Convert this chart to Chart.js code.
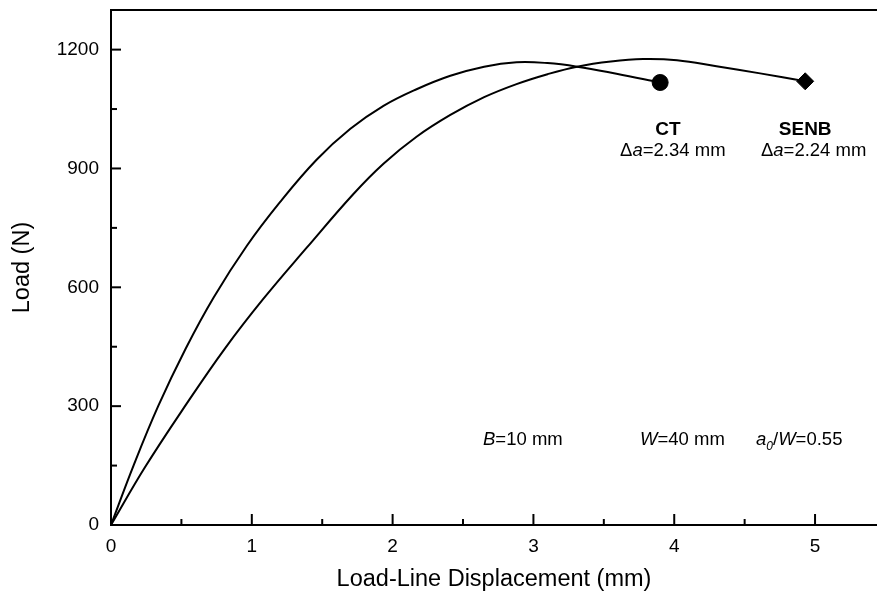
<!DOCTYPE html>
<html>
<head>
<meta charset="utf-8">
<script src="https://cdn.jsdelivr.net/npm/chart.js@4/dist/chart.umd.min.js"></script>
<style>
  html, body { margin: 0; padding: 0; background: #fff; }
  canvas { display: block; }
</style>
</head>
<body>
<canvas id="chart" width="877" height="598"></canvas>
<script>
// Load vs. load-line displacement for the two specimen geometries
const ctDisp   = [0, 0.16, 0.335, 0.53, 0.73, 0.965, 1.20, 1.46, 1.70, 1.935, 2.17, 2.41, 2.65, 2.88, 3.10, 3.31, 3.59, 3.90];
const ctLoad   = [0, 150, 300, 445, 575, 705, 815, 922, 1000, 1058, 1100, 1134, 1157, 1168, 1166, 1157, 1139, 1117];

const senbDisp = [0, 0.24, 0.535, 0.81, 1.08, 1.39, 1.72, 1.935, 2.17, 2.41, 2.65, 2.88, 3.10, 3.31, 3.55, 3.78, 4.02, 4.30, 4.61, 4.93];
const senbLoad = [0, 145, 305, 446, 570, 700, 835, 912, 980, 1035, 1080, 1113, 1138, 1157, 1170, 1176, 1173, 1158, 1140, 1120];

// Axis ticks
const xTickValues  = [0, 1, 2, 3, 4, 5];
const xMinorValues = [0.5, 1.5, 2.5, 3.5, 4.5];
const yTickValues  = [0, 300, 600, 900, 1200];
const yMinorValues = [150, 450, 750, 1050];

// Specimen names and final crack extension (mm)
const specimenNames = ['CT', 'SENB'];
const crackGrowth   = ['2.34', '2.24'];

const FONT = "'Liberation Sans', Arial, Helvetica, sans-serif";
Chart.defaults.font.family = FONT;
Chart.defaults.color = '#000';

const toPoints = (xs, ys) => xs.map((v, i) => ({ x: v, y: ys[i] }));
const lastOnly = (n, r) => ctx => (ctx.dataIndex === n - 1 ? r : 0);

// Frame (left, bottom, top) with inward major/minor ticks
const framePlugin = {
  id: 'frame',
  afterDraw(chart) {
    const { ctx, chartArea: a, scales: { x, y } } = chart;
    ctx.save();
    ctx.strokeStyle = '#000';
    ctx.lineWidth = 2;
    ctx.beginPath();
    ctx.moveTo(a.right + 2, a.top);
    ctx.lineTo(a.left, a.top);
    ctx.lineTo(a.left, a.bottom);
    ctx.lineTo(a.right + 2, a.bottom);
    ctx.stroke();

    const line = (x1, y1, x2, y2) => { ctx.beginPath(); ctx.moveTo(x1, y1); ctx.lineTo(x2, y2); ctx.stroke(); };
    xTickValues.forEach(v => { const p = x.getPixelForValue(v); line(p, a.bottom, p, a.bottom - 11); });
    xMinorValues.forEach(v => { const p = x.getPixelForValue(v); line(p, a.bottom, p, a.bottom - 6); });
    yTickValues.forEach(v => { const p = y.getPixelForValue(v); line(a.left, p, a.left + 10, p); });
    yMinorValues.forEach(v => { const p = y.getPixelForValue(v); line(a.left, p, a.left + 6, p); });
    ctx.restore();
  }
};

// Text made of runs with optional italic / bold / subscript
function drawRuns(ctx, runs, cx, baseY, size, align) {
  const fontFor = r => `${r.it ? 'italic ' : ''}${r.b ? 'bold ' : ''}${r.sub ? Math.round(size * 0.65) : size}px ${FONT}`;
  let total = 0;
  runs.forEach(r => { ctx.font = fontFor(r); total += ctx.measureText(r.t).width; });
  let xPos = align === 'center' ? cx - total / 2 : cx;
  ctx.textAlign = 'left';
  ctx.textBaseline = 'alphabetic';
  runs.forEach(r => {
    ctx.font = fontFor(r);
    ctx.fillText(r.t, xPos, r.sub ? baseY + size * 0.25 : baseY);
    xPos += ctx.measureText(r.t).width;
  });
}

const notesPlugin = {
  id: 'notes',
  afterDatasetsDraw(chart) {
    const { ctx, scales: { x, y } } = chart;
    ctx.save();
    ctx.fillStyle = '#000';
    // captions under the end markers
    const captions = [
      { cx: 3.955, name: specimenNames[0], dx: 3.99, da: crackGrowth[0] },
      { cx: 4.93,  name: specimenNames[1], dx: 4.99, da: crackGrowth[1] }
    ];
    captions.forEach(c => {
      drawRuns(ctx, [{ t: c.name, b: true }], x.getPixelForValue(c.cx), y.getPixelForValue(985), 19, 'center');
      drawRuns(ctx, [{ t: '\u0394' }, { t: 'a', it: true }, { t: '=' + c.da + ' mm' }],
               x.getPixelForValue(c.dx), y.getPixelForValue(931), 18.5, 'center');
    });
    // specimen dimensions
    const by = y.getPixelForValue(202);
    drawRuns(ctx, [{ t: 'B', it: true }, { t: '=10 mm' }], x.getPixelForValue(2.642), by, 18.5, 'left');
    drawRuns(ctx, [{ t: 'W', it: true }, { t: '=40 mm' }], x.getPixelForValue(3.757), by, 18.5, 'left');
    drawRuns(ctx, [{ t: 'a', it: true }, { t: '0', it: true, sub: true }, { t: '/' }, { t: 'W', it: true }, { t: '=0.55' }],
             x.getPixelForValue(4.581), by, 18.5, 'left');
    ctx.restore();
  }
};

const plainLabel = v => String(v);

new Chart(document.getElementById('chart'), {
  type: 'line',
  data: {
    datasets: [
      {
        label: specimenNames[0],
        data: toPoints(ctDisp, ctLoad),
        borderColor: '#000', backgroundColor: '#000', borderWidth: 2,
        pointStyle: 'circle',
        pointRadius: lastOnly(ctDisp.length, 8),
        pointHoverRadius: 0, pointBorderWidth: 1,
        tension: 0.4, fill: false
      },
      {
        label: specimenNames[1],
        data: toPoints(senbDisp, senbLoad),
        borderColor: '#000', backgroundColor: '#000', borderWidth: 2,
        pointStyle: 'rectRot',
        pointRadius: lastOnly(senbDisp.length, 8.5),
        pointHoverRadius: 0, pointBorderWidth: 1,
        tension: 0.4, fill: false
      }
    ]
  },
  options: {
    responsive: false,
    devicePixelRatio: 1,
    animation: false,
    events: [],
    layout: { autoPadding: false, padding: { top: 10, right: 0, bottom: 0, left: 0 } },
    plugins: { legend: { display: false }, tooltip: { enabled: false } },
    scales: {
      x: {
        type: 'linear', min: 0, max: 5.44,
        grid: { display: false, drawTicks: false },
        border: { display: false },
        afterBuildTicks: s => { s.ticks = xTickValues.map(v => ({ value: v })); },
        afterFit: s => { s.height = 73; s.paddingLeft = 0; s.paddingRight = 0; },
        ticks: { font: { size: 19 }, color: '#000', padding: 10, maxRotation: 0, callback: plainLabel },
        title: { display: true, text: 'Load-Line Displacement (mm)', font: { size: 23.5 }, color: '#000', padding: { top: 0, bottom: 4 } }
      },
      y: {
        type: 'linear', min: 0, max: 1300,
        grid: { display: false, drawTicks: false },
        border: { display: false },
        afterBuildTicks: s => { s.ticks = yTickValues.map(v => ({ value: v })); },
        afterFit: s => { s.width = 111; s.paddingTop = 0; s.paddingBottom = 0; },
        ticks: { font: { size: 19 }, color: '#000', padding: 12, callback: plainLabel },
        title: { display: true, text: 'Load (N)', font: { size: 23.5 }, color: '#000', padding: { top: 8, bottom: 0 } }
      }
    }
  },
  plugins: [framePlugin, notesPlugin]
});
</script>
</body>
</html>
